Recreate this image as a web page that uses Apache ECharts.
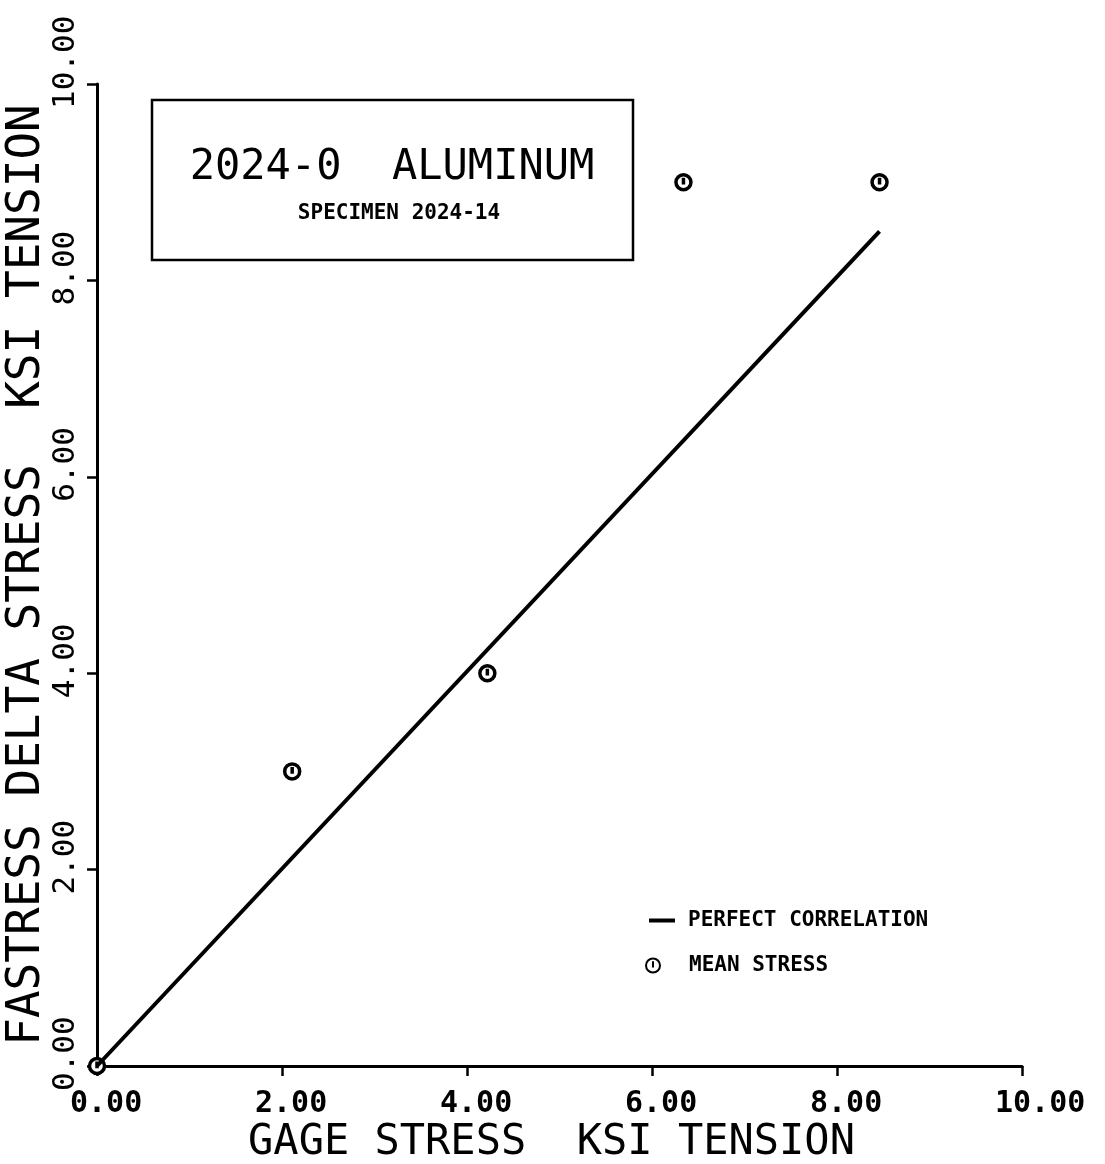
<!DOCTYPE html>
<html>
<head>
<meta charset="utf-8">
<script src="https://cdn.jsdelivr.net/npm/echarts@6/dist/echarts.min.js"></script>
<style>html,body{margin:0;padding:0;background:#fff}#c{width:1105px;height:1164px}</style>
</head>
<body>
<div id="c"></div>
<script>
// Data
var gageStress = [0, 2.11, 4.22, 6.34, 8.46];
var fastressDelta = [0, 3.0, 4.0, 9.0, 9.0];
var correlationX = [0, 8.46];
var correlationY = [0, 8.5];
var xTicks = [0, 2, 4, 6, 8, 10];
var yTicks = [0, 2, 4, 6, 8, 10];
var titleText = '2024-0  ALUMINUM';
var subtitleText = 'SPECIMEN 2024-14';
var xName = 'GAGE STRESS  KSI TENSION';
var yName = 'FASTRESS DELTA STRESS  KSI TENSION';
var lineName = 'PERFECT CORRELATION';
var pointName = 'MEAN STRESS';

var MONO = '"DejaVu Sans Mono", "Liberation Mono", monospace';
var markerPath = 'path://M0,-10A10,10 0 1,1 0,10A10,10 0 1,1 0,-10ZM0,-6L0,3';

var chart = echarts.init(document.getElementById('c'), null, {renderer: 'canvas'});
var option = {
  backgroundColor: '#fff',
  animation: false,
  grid: {left: 97, right: 83, top: 84, bottom: 98, containLabel: false, outerBoundsMode: 'none'},
  xAxis: {
    type: 'value', min: xTicks[0], max: xTicks[xTicks.length - 1], interval: 2,
    name: xName, nameLocation: 'middle', nameGap: 56, nameMoveOverlap: false,
    nameTextStyle: {fontFamily: MONO, fontSize: 42, color: '#000', padding: [0, 16, 0, 0]},
    axisLine: {show: true, lineStyle: {color: '#000', width: 3}},
    axisTick: {show: true, length: 10, lineStyle: {color: '#000', width: 2.5}},
    splitLine: {show: false},
    axisLabel: {
      fontFamily: MONO, fontSize: 30, fontWeight: 'bold', color: '#000', margin: 23,
      align: 'left', padding: [0, 0, 0, -27],
      formatter: function (v) { return v.toFixed(2); }
    }
  },
  yAxis: {
    type: 'value', min: yTicks[0], max: yTicks[yTicks.length - 1], interval: 2,
    name: yName, nameLocation: 'middle', nameGap: 47, nameMoveOverlap: false,
    nameTextStyle: {fontFamily: MONO, fontSize: 46, color: '#000'},
    axisLine: {show: true, lineStyle: {color: '#000', width: 3}},
    axisTick: {show: true, length: 10, lineStyle: {color: '#000', width: 2.5}},
    splitLine: {show: false},
    axisLabel: {
      fontFamily: MONO, fontSize: 31, color: '#000', margin: 16, rotate: 90,
      align: 'left', padding: [0, 0, 0, -25],
      formatter: function (v) { return v.toFixed(2); }
    }
  },
  legend: [{
    data: [{name: lineName, icon: 'rect'}], orient: 'vertical', left: 649, top: 910, padding: 0,
    itemWidth: 26, itemHeight: 4,
    textStyle: {fontFamily: MONO, fontSize: 21, fontWeight: 'bold', color: '#000', padding: [0, 0, 0, 8]}
  }, {
    data: [pointName], orient: 'vertical', left: 645, top: 955, padding: 0,
    itemWidth: 14, itemHeight: 14,
    textStyle: {fontFamily: MONO, fontSize: 21, fontWeight: 'bold', color: '#000', padding: [0, 0, 0, 24]}
  }],
  graphic: [{
    type: 'rect',
    shape: {x: 152, y: 100, width: 481, height: 160},
    style: {fill: 'none', stroke: '#000', lineWidth: 2.5}, z: 10
  }, {
    type: 'text', x: 392, y: 168,
    style: {text: titleText, font: '42px ' + MONO, fill: '#000', textAlign: 'center', textVerticalAlign: 'middle'}, z: 10
  }, {
    type: 'text', x: 399, y: 214,
    style: {text: subtitleText, font: 'bold 21px ' + MONO, fill: '#000', textAlign: 'center', textVerticalAlign: 'middle'}, z: 10
  }],
  series: [{
    name: lineName, type: 'line', symbol: 'none',
    data: correlationX.map(function (x, i) { return [x, correlationY[i]]; }),
    lineStyle: {color: '#000', width: 4}, itemStyle: {color: '#000'}
  }, {
    name: pointName, type: 'scatter', symbol: markerPath, symbolSize: 15,
    data: gageStress.map(function (x, i) { return [x, fastressDelta[i]]; }),
    itemStyle: {color: '#fff', borderColor: '#000', borderWidth: 3.5, opacity: 1}
  }]
};
chart.setOption(option);
</script>
</body>
</html>
